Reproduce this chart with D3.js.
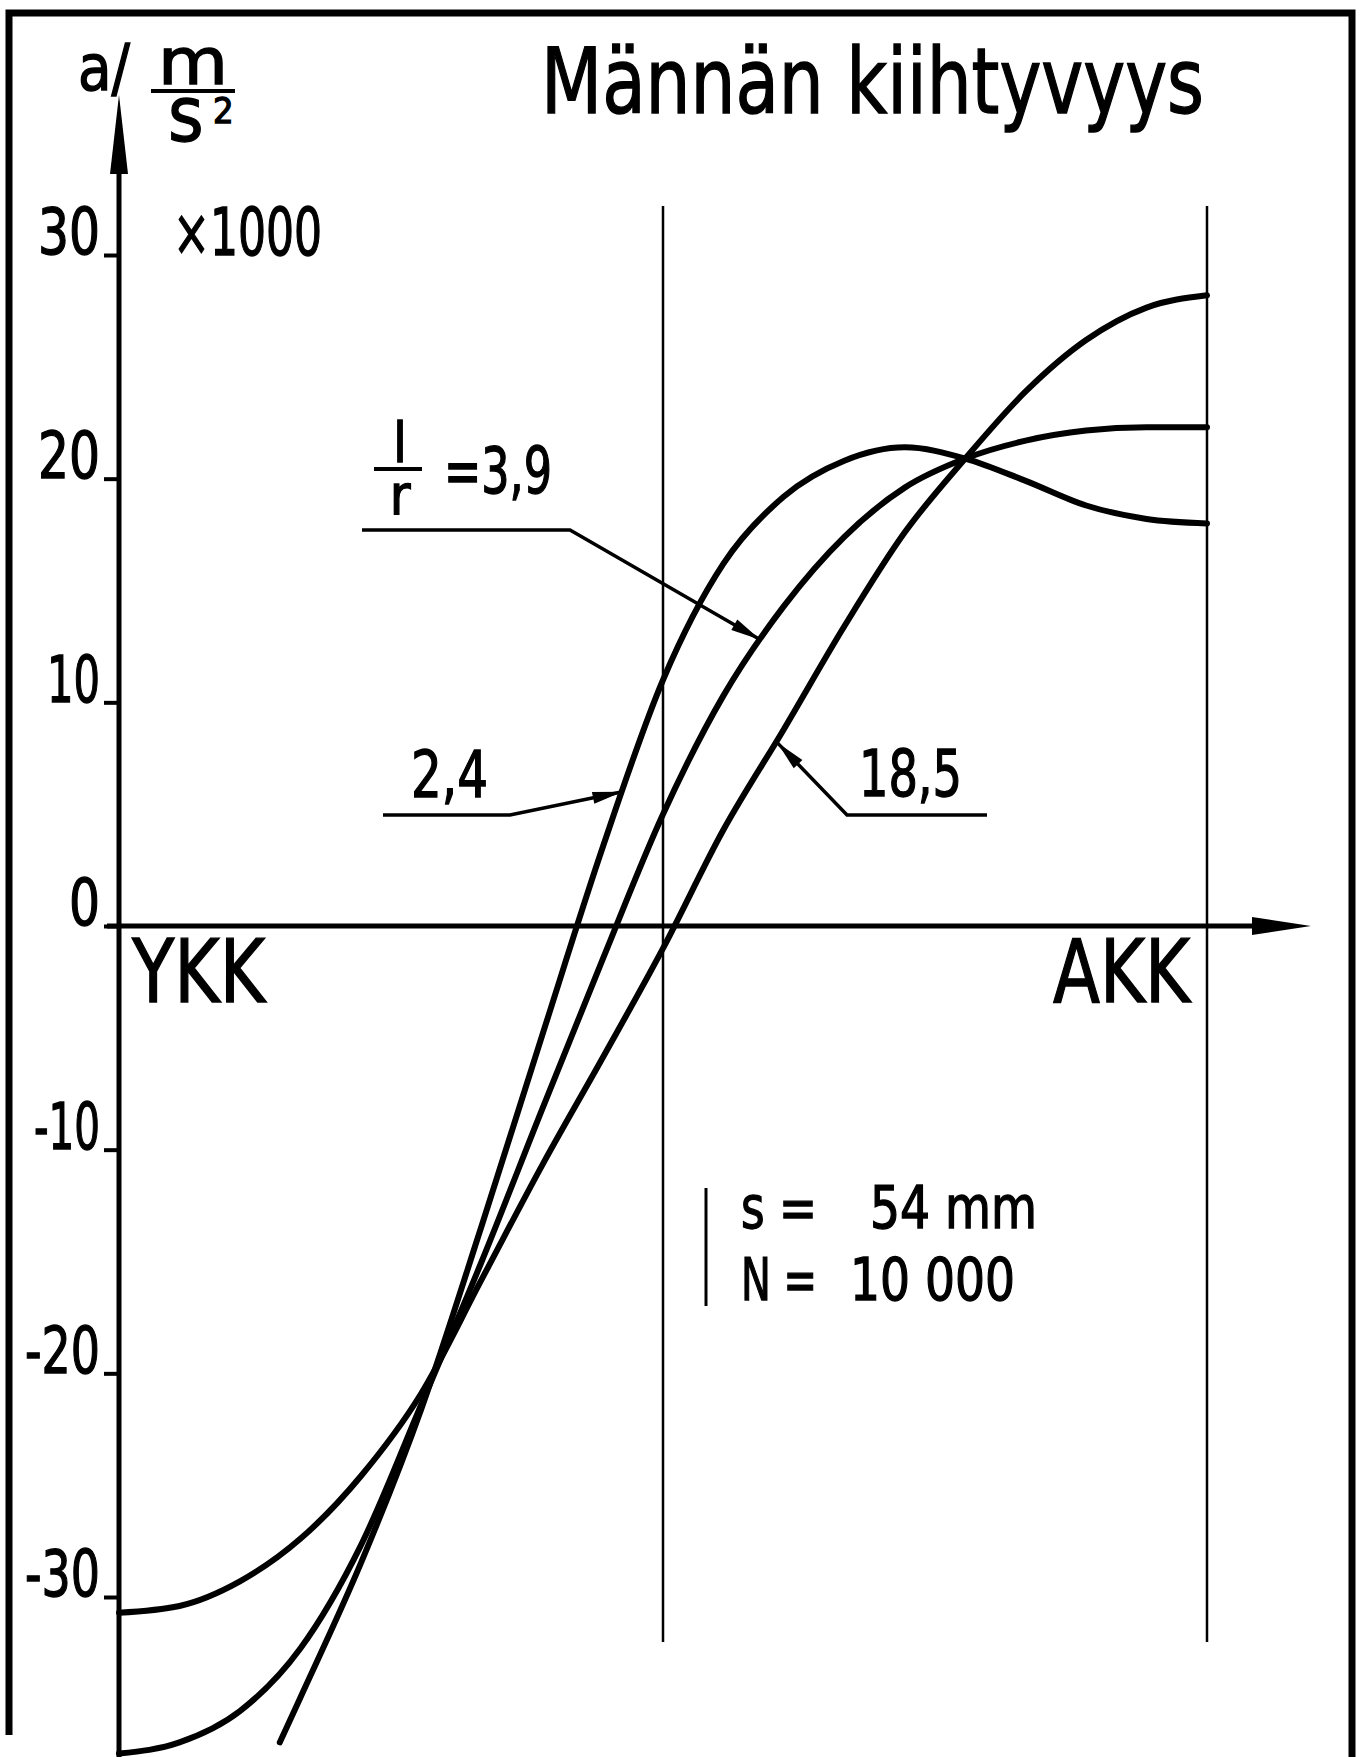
<!DOCTYPE html>
<html>
<head>
<meta charset="utf-8">
<script src="https://cdn.jsdelivr.net/npm/d3@7"></script>
<style>
  body { margin: 0; background: #fff; }
  text { font-family: "Liberation Sans Narrow", "DejaVu Sans Condensed", "Liberation Sans", sans-serif; fill: #000; stroke: #000; stroke-width: 1.3px; }
</style>
</head>
<body>
<div id="chart"></div>
<script>
// crank angle (deg, YKK = 0, AKK = 180) and piston acceleration (x1000 m/s2)
const deg24 = [26.6, 30, 40, 50, 60, 70, 80, 90, 100, 110, 120, 130, 140, 150, 160, 170, 180];
const acc24 = [-36.5, -34.5, -28.5, -21.6, -13.4, -4.9, 3.5, 11.0, 16.2, 19.2, 20.8, 21.4, 20.9, 19.9, 18.8, 18.2, 18.0];

const deg39 = [0, 10, 20, 30, 40, 50, 60, 70, 80, 90, 100, 110, 120, 130, 140, 150, 160, 170, 180];
const acc39 = [-37.0, -36.5, -35.1, -32.3, -27.7, -21.4, -15.0, -8.2, -1.5, 5.0, 10.3, 14.3, 17.4, 19.6, 20.9, 21.7, 22.15, 22.3, 22.3];

const deg185 = [0, 10, 20, 30, 40, 50, 60, 70, 80, 90, 100, 110, 120, 130, 140, 150, 160, 170, 180];
const acc185 = [-30.7, -30.4, -29.3, -27.4, -24.6, -20.9, -15.8, -10.7, -5.9, -1.0, 4.3, 8.8, 13.4, 17.6, 20.9, 23.9, 26.2, 27.65, 28.2];

const yTicks = [30, 20, 10, 0, -10, -20, -30];
const ratioLabels = ["2,4", "3,9", "18,5"];

const width = 1365, height = 1757;

const svg = d3.select("#chart").append("svg")
    .attr("width", width)
    .attr("height", height);

const x = d3.scaleLinear().domain([0, 180]).range([119, 1207]);
const y = d3.scaleLinear().domain([-30, 30]).range([1597, 255]);

// frame
svg.append("path")
    .attr("d", "M9,1735 V13 H1352 V1757")
    .attr("fill", "none")
    .attr("stroke", "black")
    .attr("stroke-width", 7);

// thin verticals at 90 deg and AKK
svg.selectAll(".vline")
    .data([90, 180])
    .enter()
    .append("line")
    .attr("class", "vline")
    .attr("x1", d => x(d)).attr("x2", d => x(d))
    .attr("y1", 206).attr("y2", 1642)
    .attr("stroke", "black")
    .attr("stroke-width", 2.5);

// axes
svg.append("line")
    .attr("x1", x(0)).attr("x2", x(0))
    .attr("y1", 170).attr("y2", height)
    .attr("stroke", "black").attr("stroke-width", 5);
svg.append("polygon")
    .attr("points", `${x(0)},95 ${x(0) - 9},174 ${x(0) + 9},174`)
    .attr("fill", "black");

svg.append("line")
    .attr("x1", x(0) - 12).attr("x2", 1256)
    .attr("y1", y(0)).attr("y2", y(0))
    .attr("stroke", "black").attr("stroke-width", 5);
svg.append("polygon")
    .attr("points", `1311,${y(0)} 1252,${y(0) - 9} 1252,${y(0) + 9}`)
    .attr("fill", "black");

// rough glyph widths of the drawn lettering
const labelWidth = s => s.split("").reduce((w, c) => w + (c === "-" ? 13 : c === "1" ? 22 : 31), 0);

const yAxis = svg.append("g")
    .attr("transform", `translate(${x(0)},0)`)
    .call(d3.axisLeft(y).tickValues(yTicks).tickSize(15).tickPadding(4).tickFormat(d => String(d)));
yAxis.select(".domain").remove();
yAxis.selectAll(".tick line").attr("stroke", "black").attr("stroke-width", 4);
yAxis.selectAll(".tick text")
    .attr("dy", "-0.02em")
    .attr("textLength", d => labelWidth(String(d)))
    .attr("lengthAdjust", "spacingAndGlyphs")
    .style("font-size", "64px")
    .attr("fill", "black");

// curves
const line = d3.line()
    .x(d => x(d[0]))
    .y(d => y(d[1]))
    .curve(d3.curveMonotoneX);

const series = [
    d3.zip(deg24, acc24),
    d3.zip(deg39, acc39),
    d3.zip(deg185, acc185)
];

svg.selectAll(".curve")
    .data(series)
    .enter()
    .append("path")
    .attr("class", "curve")
    .attr("d", line)
    .attr("fill", "none")
    .attr("stroke", "black")
    .attr("stroke-width", 6)
    .attr("stroke-linejoin", "round")
    .attr("stroke-linecap", "round");

// leaders with arrowheads
function arrowHead(tip, from, len, half) {
    const dx = tip[0] - from[0], dy = tip[1] - from[1];
    const L = Math.hypot(dx, dy);
    const ux = dx / L, uy = dy / L;
    const bx = tip[0] - ux * len, by = tip[1] - uy * len;
    return [[tip[0], tip[1]], [bx - uy * half, by + ux * half], [bx + uy * half, by - ux * half]];
}

const leaders = [
    [[383, 815], [510, 815], [x(83.3), y(6.0)]],
    [[362, 530], [570, 530], [x(106.1), y(12.8)]],
    [[987, 815], [847, 815], [x(108.9), y(8.2)]]
];

leaders.forEach(pts => {
    svg.append("path")
        .attr("d", d3.line()(pts))
        .attr("fill", "none")
        .attr("stroke", "black")
        .attr("stroke-width", 3.5);
    svg.append("polygon")
        .attr("points", arrowHead(pts[2], pts[1], 30, 6).map(p => p.join(",")).join(" "))
        .attr("fill", "black");
});

// ratio labels
svg.append("text")
    .attr("x", 411).attr("y", 797)
    .style("font-size", "64px")
    .attr("textLength", 77).attr("lengthAdjust", "spacingAndGlyphs")
    .text(ratioLabels[0]);

svg.append("text")
    .attr("x", 859).attr("y", 796)
    .style("font-size", "64px")
    .attr("textLength", 103).attr("lengthAdjust", "spacingAndGlyphs")
    .text(ratioLabels[2]);

const frac = svg.append("text")
    .attr("text-anchor", "middle")
    .style("font-size", "56px");
frac.append("tspan").attr("x", 400).attr("y", 462).text("l");
frac.append("tspan").attr("x", 400).attr("y", 514).text("r");
svg.append("line")
    .attr("x1", 374).attr("x2", 422)
    .attr("y1", 469).attr("y2", 469)
    .attr("stroke", "black").attr("stroke-width", 4);
svg.append("text")
    .attr("x", 444).attr("y", 493)
    .style("font-size", "64px")
    .attr("textLength", 108).attr("lengthAdjust", "spacingAndGlyphs")
    .text("=" + ratioLabels[1]);

// title and axis labels
svg.append("text")
    .attr("x", 541).attr("y", 113)
    .style("font-size", "90px")
    .attr("textLength", 663).attr("lengthAdjust", "spacingAndGlyphs")
    .text("Männän kiihtyvyys");

const unit = svg.append("text");
unit.append("tspan").attr("x", 78).attr("y", 90).style("font-size", "64px")
    .attr("textLength", 52).attr("lengthAdjust", "spacingAndGlyphs").text("a/");
unit.append("tspan").attr("x", 158).attr("y", 84).style("font-size", "64px")
    .attr("textLength", 70).attr("lengthAdjust", "spacingAndGlyphs").text("m");
unit.append("tspan").attr("x", 168).attr("y", 141).style("font-size", "76px").text("s");
unit.append("tspan").attr("x", 213).attr("y", 123).style("font-size", "36px").text("2");
svg.append("line")
    .attr("x1", 151).attr("x2", 235)
    .attr("y1", 91).attr("y2", 91)
    .attr("stroke", "black").attr("stroke-width", 4);

svg.append("text")
    .attr("x", 173).attr("y", 255)
    .style("font-size", "66px")
    .attr("textLength", 149).attr("lengthAdjust", "spacingAndGlyphs")
    .text("×1000");

svg.append("text")
    .attr("x", 132).attr("y", 1002)
    .style("font-size", "88px")
    .attr("textLength", 133).attr("lengthAdjust", "spacingAndGlyphs")
    .text("YKK");
svg.append("text")
    .attr("x", 1053).attr("y", 1002)
    .style("font-size", "88px")
    .attr("textLength", 137).attr("lengthAdjust", "spacingAndGlyphs")
    .text("AKK");

// engine data note
svg.append("line")
    .attr("x1", 706).attr("x2", 706)
    .attr("y1", 1188).attr("y2", 1306)
    .attr("stroke", "black").attr("stroke-width", 3);
const note = [
    { a: "s =", b: "54 mm", y: 1228, bx: 870, bw: 167 },
    { a: "N =", b: "10 000", y: 1300, bx: 850, bw: 165 }
];
note.forEach(n => {
    svg.append("text")
        .attr("x", 741).attr("y", n.y)
        .style("font-size", "58px")
        .attr("textLength", 76).attr("lengthAdjust", "spacingAndGlyphs")
        .text(n.a);
    svg.append("text")
        .attr("x", n.bx).attr("y", n.y)
        .style("font-size", "58px")
        .attr("textLength", n.bw).attr("lengthAdjust", "spacingAndGlyphs")
        .text(n.b);
});
</script>
</body>
</html>
